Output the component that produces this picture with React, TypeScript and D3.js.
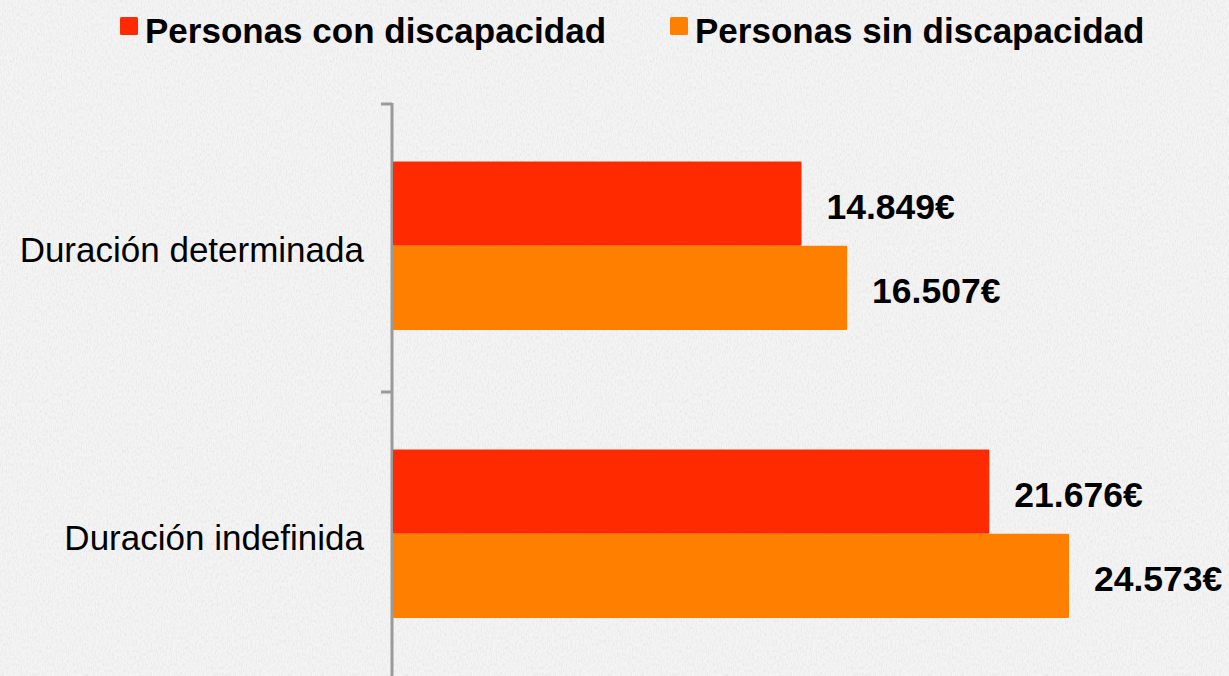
import React from "react";
import * as d3 from "d3";

const categories = ["Duración determinada", "Duración indefinida"];
const seriesNames = ["Personas con discapacidad", "Personas sin discapacidad"];
const conDiscapacidad = [14849, 21676];
const sinDiscapacidad = [16507, 24573];
const seriesColors = ["#ff2a00", "#ff7f00"];
const valueLabels = [["14.849€", "21.676€"], ["16.507€", "24.573€"]];

const W = 1229;
const H = 676;
const FONT = "'Liberation Sans', Arial, Helvetica, sans-serif";

export default function App() {
  const series = [conDiscapacidad, sinDiscapacidad];
  const axisX = 392;
  const x = d3.scaleLinear().domain([0, 24573]).range([axisX + 1, 1069]);
  const y = d3.scaleBand<string>().domain(categories).range([104, 680]).padding(0);
  const bw = y.bandwidth();
  const sub = d3.scaleBand<string>().domain(seriesNames).range([bw * 0.2, bw * 0.785]).padding(0);

  return (
    <div style={{ position: "fixed", left: 0, top: 0, width: W, height: H, overflow: "hidden" }}>
      <svg width={W} height={H} style={{ display: "block" }}>
        <defs>
          <filter id="paper" x="0" y="0" width="100%" height="100%">
            <feTurbulence type="fractalNoise" baseFrequency="0.8 0.3" numOctaves={3} seed={4} result="n" />
            <feColorMatrix
              type="matrix"
              values="0 0 0 0 0.55  0 0 0 0 0.55  0 0 0 0 0.55  2.6 0 0 0 -1.05"
            />
          </filter>
        </defs>
        <rect x={0} y={0} width={W} height={H} fill="#f4f4f4" />
        <rect x={0} y={0} width={W} height={H} fill="#000" filter="url(#paper)" opacity={0.22} />

        {/* legend */}
        {seriesNames.map((s, i) => {
          const lx = i === 0 ? 120 : 670;
          return (
            <g key={s}>
              <rect x={lx} y={17} width={18} height={18} rx={1.5} fill={seriesColors[i]} />
              <text x={lx + 25} y={43} fontFamily={FONT} fontWeight="bold" fontSize={35} fill="#000">
                {s}
              </text>
            </g>
          );
        })}

        {/* axis */}
        <line x1={axisX} x2={axisX} y1={103} y2={H} stroke="#9a9a9a" strokeWidth={3} />
        {categories.concat(["end"]).map((c, i) => {
          const ty = 104 + i * bw;
          return <line key={c} x1={381} x2={axisX} y1={ty} y2={ty} stroke="#9a9a9a" strokeWidth={3} />;
        })}

        {categories.map((c, ci) => (
          <g key={c}>
            <text
              x={364}
              y={(y(c) as number) + bw / 2}
              dy="0.4em"
              textAnchor="end"
              fontFamily={FONT}
              fontSize={35}
              fill="#000"
            >
              {c}
            </text>
            {seriesNames.map((s, si) => {
              const top = (y(c) as number) + (sub(s) as number);
              const h = sub.bandwidth();
              const v = series[si][ci];
              return (
                <g key={s}>
                  <rect x={x(0)} y={top} width={x(v) - x(0)} height={h} rx={1} fill={seriesColors[si]} />
                  <text
                    x={x(v) + 25}
                    y={top + h / 2}
                    dy="0.42em"
                    fontFamily={FONT}
                    fontWeight="bold"
                    fontSize={35.5}
                    fill="#000"
                  >
                    {valueLabels[si][ci]}
                  </text>
                </g>
              );
            })}
          </g>
        ))}
      </svg>
    </div>
  );
}
